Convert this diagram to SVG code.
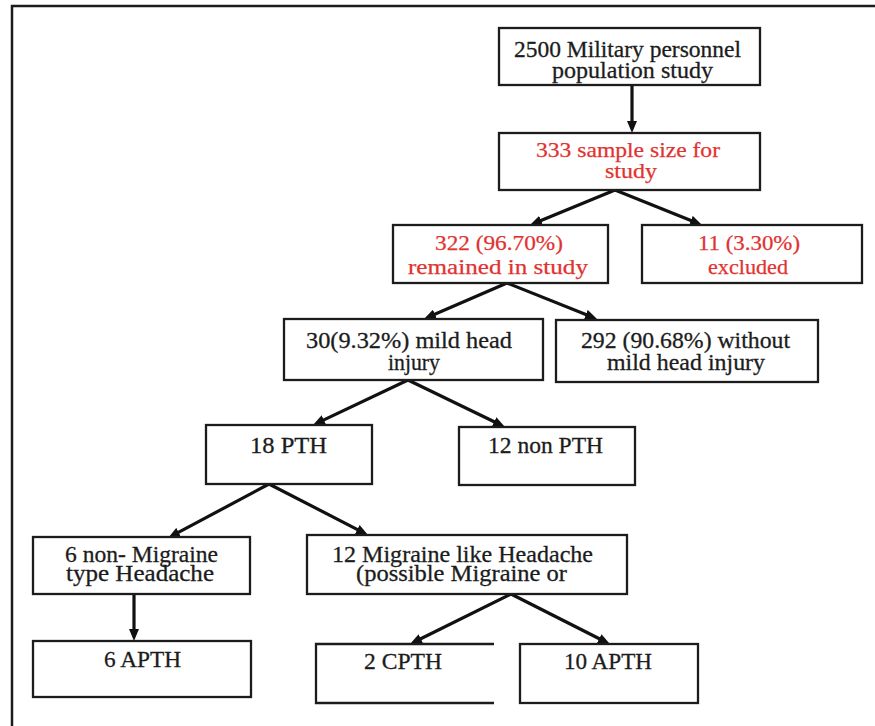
<svg xmlns="http://www.w3.org/2000/svg" width="875" height="726" viewBox="0 0 875 726">
<style>
.bg{fill:#ffffff}
.frame{fill:none;stroke:#1c1c1c;stroke-width:2.5}
.box{fill:#ffffff;stroke:#1c1c1c;stroke-width:2.3}
.t{font-family:"Liberation Serif","Times New Roman",serif;font-size:24px;fill:#1c1c1c;stroke:#1c1c1c;stroke-width:0.3}
.r{font-family:"Liberation Serif","Times New Roman",serif;font-size:22px;fill:#e2322f;stroke:#e2322f;stroke-width:0.25}
.arrow{fill:none;stroke:#111111;stroke-width:3.2;marker-end:url(#ah)}
</style>
<defs>
<marker id="ah" markerUnits="userSpaceOnUse" markerWidth="12" markerHeight="10" refX="4" refY="5" orient="auto">
<path d="M0,0 L12,5 L0,10 z" fill="#111111"/>
</marker>
</defs>
<rect class="bg" x="0" y="0" width="875" height="726"/>
<path class="frame" d="M12,726 V6 H875"/>

<g id="connectors">
<path class="arrow" d="M632,85 L632,125"/>
<path class="arrow" d="M615,190 L537.4,222"/>
<path class="arrow" d="M615,190 L694.6,222"/>
<path class="arrow" d="M507,283 L431.3,315.8"/>
<path class="arrow" d="M507,283 L589.6,316"/>
<path class="arrow" d="M408,380 L320.2,421.6"/>
<path class="arrow" d="M408,380 L497.8,423.5"/>
<path class="arrow" d="M269,484 L175.1,534.2"/>
<path class="arrow" d="M269,484 L360.9,531.3"/>
<path class="arrow" d="M134,594 L134,633"/>
<path class="arrow" d="M511,594 L417.2,640.5"/>
<path class="arrow" d="M511,594 L602.8,640.5"/>
</g>

<g id="n-population">
<rect class="box" x="499" y="28" width="261" height="57"/>
<text class="t" x="514" y="57" textLength="227" lengthAdjust="spacingAndGlyphs">2500 Military personnel</text>
<text class="t" x="552" y="78" textLength="161" lengthAdjust="spacingAndGlyphs">population study</text>
</g>

<g id="n-sample">
<rect class="box" x="499" y="133" width="261" height="57"/>
<text class="r" x="536" y="157" textLength="184" lengthAdjust="spacingAndGlyphs">333 sample size for</text>
<text class="r" x="605" y="178" textLength="52" lengthAdjust="spacingAndGlyphs">study</text>
</g>

<g id="n-remained">
<rect class="box" x="393" y="225" width="215" height="58"/>
<text class="r" x="435" y="250" textLength="128" lengthAdjust="spacingAndGlyphs">322 (96.70%)</text>
<text class="r" x="408" y="274" textLength="180" lengthAdjust="spacingAndGlyphs">remained  in  study</text>
</g>

<g id="n-excluded">
<rect class="box" x="642" y="225" width="220" height="58"/>
<text class="r" x="698" y="250" textLength="102" lengthAdjust="spacingAndGlyphs">11 (3.30%)</text>
<text class="r" x="708" y="274" textLength="80" lengthAdjust="spacingAndGlyphs">excluded</text>
</g>

<g id="n-mild">
<rect class="box" x="284" y="319" width="259" height="61"/>
<text class="t" x="306" y="348" textLength="206" lengthAdjust="spacingAndGlyphs">30(9.32%) mild head</text>
<text class="t" x="388" y="370" textLength="52" lengthAdjust="spacingAndGlyphs">injury</text>
</g>

<g id="n-without">
<rect class="box" x="556" y="320" width="262" height="62"/>
<text class="t" x="581" y="348" textLength="209" lengthAdjust="spacingAndGlyphs">292 (90.68%) without</text>
<text class="t" x="607" y="370" textLength="158" lengthAdjust="spacingAndGlyphs">mild head injury</text>
</g>

<g id="n-pth">
<rect class="box" x="206" y="425" width="166" height="59"/>
<text class="t" x="250" y="453" textLength="77" lengthAdjust="spacingAndGlyphs">18 PTH</text>
</g>

<g id="n-nonpth">
<rect class="box" x="459" y="427" width="176" height="58"/>
<text class="t" x="488" y="453" textLength="115" lengthAdjust="spacingAndGlyphs">12 non PTH</text>
</g>

<g id="n-nonmigraine">
<rect class="box" x="33" y="537" width="217" height="57"/>
<text class="t" x="65" y="562" textLength="153" lengthAdjust="spacingAndGlyphs">6 non- Migraine</text>
<text class="t" x="66" y="581" textLength="148" lengthAdjust="spacingAndGlyphs">type Headache</text>
</g>

<g id="n-migraine">
<rect class="box" x="307" y="535" width="320" height="59"/>
<text class="t" x="332" y="562" textLength="261" lengthAdjust="spacingAndGlyphs">12 Migraine like Headache</text>
<text class="t" x="356" y="581" textLength="211" lengthAdjust="spacingAndGlyphs">(possible Migraine or</text>
</g>

<g id="n-apth6">
<rect class="box" x="33" y="641" width="218" height="56"/>
<text class="t" x="104" y="667" textLength="77" lengthAdjust="spacingAndGlyphs">6 APTH</text>
</g>

<g id="n-cpth">
<path class="box" d="M494,644 H316 V703 H494"/>
<text class="t" x="364" y="669" textLength="78" lengthAdjust="spacingAndGlyphs">2 CPTH</text>
</g>

<g id="n-apth10">
<rect class="box" x="520" y="644" width="178" height="59"/>
<text class="t" x="564" y="669" textLength="88" lengthAdjust="spacingAndGlyphs">10 APTH</text>
</g>
</svg>
